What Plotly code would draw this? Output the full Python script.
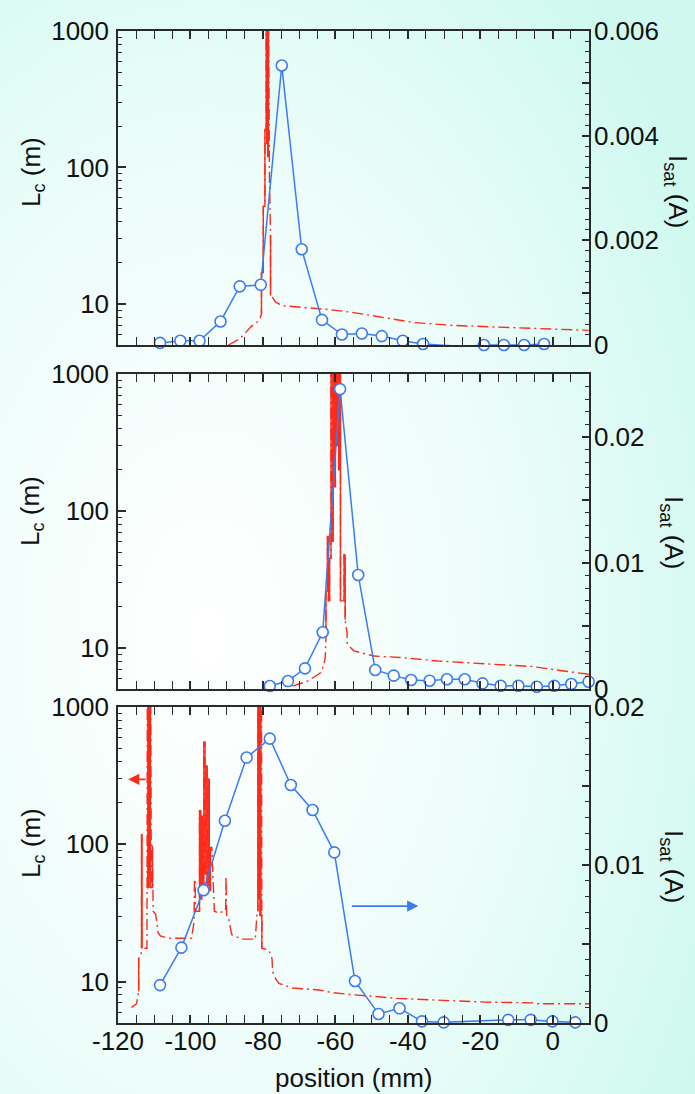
import base64
import plotly.graph_objects as go

# ---------------- data ----------------
# Panel 1 (top)
p1_red_x = [-89.5, -86.2, -83.4, -81.5, -80.8, -80.4, -80.4, -79.9, -79.9, -79.45, -79.45,
            -79.1, -79.1, -78.95, -78.95, -78.8, -78.8, -78.65, -78.65, -78.5, -78.5,
            -78.2, -77.9, -77.9, -77.4, -76.5, -74.6, -69.6, -62.0, -55.7, -47.4, -41.8,
            -38.2, -27.1, -18.0, -10.4, -1.2, 9.9]
p1_red_L = [5.0, 5.6, 6.76, 7.4, 7.8, 8.5, 17, 17, 52, 52, 190,
            190, 3000, 3000, 150, 150, 3000, 3000, 120, 120, 3000,
            86, 32, 11.5, 11.2, 10.3, 9.7, 9.5, 9.1, 8.7, 8.0, 7.55,
            7.3, 6.95, 6.8, 6.7, 6.6, 6.4]
p1_blue_x = [-108.4, -102.8, -97.5, -91.7, -86.4, -80.6, -74.8, -69.3, -63.7, -58.2,
             -52.7, -47.2, -41.4, -35.8, -24.5, -19.0, -13.5, -7.9, -2.4]
p1_blue_I = [0.00004, 0.00008, 0.00008, 0.00045, 0.00112, 0.00115, 0.00534, 0.00183,
             0.00048, 0.0002, 0.00022, 0.00017, 0.00008, 0.00002, -0.00003, 0.0, 0.0,
             0.0, 0.00002]

# Panel 2 (middle)
p2_red_x = [-71.9, -67.7, -64.0, -63.2, -62.8, -62.6, -62.6, -62.2, -62.2, -61.9, -61.9,
            -61.6, -61.6, -61.2, -61.2, -60.9, -60.9, -60.6, -60.6, -60.3, -60.3, -60.0,
            -60.0, -59.7, -59.7, -59.4, -59.4, -59.1, -59.1, -58.8, -58.8, -58.6, -58.6,
            -58.2, -57.6, -57.6, -57.3, -57.3, -56.8, -56.7, -54.9, -49.4, -46.0, -42.0,
            -31.7, -19.7, -5.8, 2.5, 9.0, 10.0]
p2_red_L = [5.25, 5.7, 6.6, 7.5, 8.5, 12, 26, 26, 65, 65, 22,
            22, 45, 45, 3000, 3000, 60, 60, 3000, 3000, 150, 150,
            3000, 3000, 300, 300, 3000, 3000, 200, 200, 3000, 3000, 22,
            22, 22, 48, 48, 16, 13, 10.6, 9.5, 8.7, 8.6, 8.5,
            8.0, 7.7, 7.3, 6.8, 6.5, 6.4]
p2_blue_x = [-78.1, -73.1, -68.4, -63.5, -58.7, -53.7, -49.0, -43.9, -39.1, -34.0,
             -29.2, -24.3, -19.4, -14.4, -9.5, -4.4, 0.4, 5.1, 9.9]
p2_blue_I = [0.00024, 0.00063, 0.00164, 0.0045, 0.0238, 0.00905, 0.00151, 0.00106,
             0.00071, 0.00066, 0.00077, 0.00077, 0.00045, 0.00026, 0.00026, 0.00018,
             0.00026, 0.0004, 0.00058]

# Panel 3 (bottom)
p3_red_x = [-116.3, -115.4, -114.9, -114.5, -114.3, -114.3, -113.7, -113.5, -113.5, -113.4,
            -113.4, -112.3, -112.0, -111.9, -111.75, -111.75, -111.6, -111.6, -111.45,
            -111.45, -111.3, -111.3, -111.15, -111.15, -111.0, -110.8, -110.5, -110.5,
            -110.3, -109.6, -108.9, -108.3, -106.1, -99.7, -99.2, -99.0, -98.9, -98.7,
            -98.6, -97.8, -97.5, -97.5, -97.2, -97.2, -96.9, -96.9, -96.6, -96.6, -96.3,
            -96.3, -96.0, -96.0, -95.7, -95.7, -95.4, -95.4, -95.1, -95.1, -94.8, -94.8,
            -94.5, -94.5, -94.1, -93.4, -92.3, -90.6, -90.3, -90.2, -90.0, -89.5, -88.6,
            -85.8, -82.1, -81.6, -81.4, -81.4, -81.2, -81.2, -81.0, -81.0, -80.8, -80.8,
            -80.6, -80.6, -80.4, -80.3, -80.3, -78.4, -77.5, -77.3, -76.5, -75.6, -71.9,
            -64.5, -61.2, -56.7, -42.8, -18.7, -4.9, -4.0, 9.9, 10.0]
p3_red_L = [6.5, 6.7, 6.9, 7.8, 8.5, 14.8, 15.3, 17.5, 119, 119,
            17.5, 17.5, 17.5, 3000, 3000, 48, 48, 3000, 3000,
            60, 60, 3000, 3000, 48, 3000, 48, 48, 98,
            32.6, 31, 22.6, 21.5, 20.7, 20.7, 27.5, 27.5, 55.6, 55.6,
            32.6, 32.6, 32.6, 176, 176, 40, 40, 160, 160, 45, 45,
            557, 557, 60, 60, 376, 376, 50, 50, 300, 300, 46,
            46, 95, 95, 32.6, 31.6, 32.6, 32.6, 58.7, 30, 29, 22,
            20.4, 20.4, 32.6, 32.6, 3000, 3000, 40, 40, 3000, 3000, 30,
            30, 3000, 3000, 31, 17.5, 17, 14.8, 11.8, 10.5, 9.7, 9.0,
            8.7, 8.35, 8.1, 7.55, 7.1, 7.0, 6.9, 6.9, 6.9]
p3_blue_x = [-108.4, -102.5, -96.4, -90.5, -84.5, -78.1, -72.3, -66.3, -60.3, -54.6,
             -48.1, -42.3, -36.1, -30.1, -12.3, -6.1, -0.1, 6.2]
p3_blue_I = [0.0024, 0.00477, 0.0084, 0.0128, 0.0168, 0.0180, 0.01506, 0.01348, 0.0108,
             0.00266, 0.00057, 0.00093, 0.0001, 0.00004, 0.0002, 0.0002, 0.0001, 0.00004]

# axis ranges / ticks
x_range = [-120, 10]
x_tickvals = [-120, -100, -80, -60, -40, -20, 0]
x_ticktext = ["-120", "-100", "-80", "-60", "-40", "-20", "0"]
lc_range_log = [0.699, 3]
lc_ticks = [10, 100, 1000]
lc_minor = [5, 6, 7, 8, 9, 20, 30, 40, 50, 60, 70, 80, 90, 200, 300, 400, 500, 600, 700, 800, 900]
isat_ranges = [[0, 0.006], [0, 0.025], [0, 0.02]]
isat_tickvals = [[0, 0.001, 0.002, 0.003, 0.004, 0.005, 0.006],
                 [0, 0.005, 0.01, 0.015, 0.02, 0.025],
                 [0, 0.005, 0.01, 0.015, 0.02]]
isat_ticktext = [["0", "", "0.002", "", "0.004", "", "0.006"],
                 ["0", "", "0.01", "", "0.02", ""],
                 ["0", "", "0.01", "", "0.02"]]
isat_minor = [0.0002, 0.001, 0.001]

# ---------------- figure ----------------
W, H = 695, 1094
RED = "#FF2A1A"
BLUE = "#3A7CF0"
AX = "#2A2A2A"
TXT = "#111111"
FONT = "Liberation Sans, Arial, sans-serif"
FS = 26

panels_px = [(31, 345), (374, 689), (707, 1023)]
x_px = (118, 589)

fig = go.Figure()

red_sets = [(p1_red_x, p1_red_L), (p2_red_x, p2_red_L), (p3_red_x, p3_red_L)]
blue_sets = [(p1_blue_x, p1_blue_I), (p2_blue_x, p2_blue_I), (p3_blue_x, p3_blue_I)]


def vertical_segments(xs, ys):
    """Pick out the vertical jumps (same x) of the L_c trace; drawn solid on top."""
    sx, sy = [], []
    for k in range(len(xs) - 1):
        if xs[k] == xs[k + 1]:
            sx += [xs[k], xs[k + 1], None]
            sy += [ys[k], ys[k + 1], None]
    return sx, sy


layout = dict(
    width=W, height=H, margin=dict(l=0, r=0, t=0, b=0, autoexpand=False),
    paper_bgcolor="#E6FCF7", plot_bgcolor="#FFFFC4",
    showlegend=False, font=dict(family=FONT, size=FS, color=TXT),
)

for i in range(3):
    xa = "x" if i == 0 else f"x{i+1}"
    yl = f"y{2*i+1}" if i > 0 else "y"
    yr = f"y{2*i+2}"
    rx, rL = red_sets[i]
    bx, bI = blue_sets[i]
    fig.add_trace(go.Scatter(x=rx, y=rL, mode="lines", xaxis=xa, yaxis=yl,
                             line=dict(color=RED, width=1.4, dash="11px,4px,2px,4px")))
    vx, vy = vertical_segments(rx, rL)
    fig.add_trace(go.Scatter(x=vx, y=vy, mode="lines", xaxis=xa, yaxis=yl,
                             connectgaps=False, line=dict(color=RED, width=1.4)))
    fig.add_trace(go.Scatter(x=bx, y=bI, mode="lines+markers", xaxis=xa, yaxis=yr,
                             cliponaxis=False,
                             line=dict(color=BLUE, width=1.5),
                             marker=dict(symbol="circle", size=11, color="white",
                                         line=dict(color=BLUE, width=1.6))))

    top, bot = panels_px[i]
    ydom = [1 - bot / H, 1 - top / H]
    xdom = [x_px[0] / W, x_px[1] / W]
    xkey = "xaxis" if i == 0 else f"xaxis{i+1}"
    ylkey = "yaxis" if i == 0 else f"yaxis{2*i+1}"
    yrkey = f"yaxis{2*i+2}"
    layout[xkey] = dict(
        domain=xdom, anchor=yl, range=x_range, tickmode="array",
        tickvals=x_tickvals, ticktext=x_ticktext,
        ticks="inside", ticklen=8, tickwidth=2, tickcolor=AX,
        showline=True, linecolor=AX, linewidth=1.5, mirror="allticks",
        showgrid=False, zeroline=False, showticklabels=(i == 2),
        minor=dict(dtick=5, tick0=0, ticks="inside", ticklen=4, tickwidth=1.2, tickcolor=AX, showgrid=False),
        tickfont=dict(size=FS, family=FONT, color=TXT), ticklabelstandoff=-6,
    )
    layout[ylkey] = dict(
        domain=ydom, anchor=xa, type="log", range=lc_range_log,
        tickmode="array", tickvals=lc_ticks, ticktext=[str(v) for v in lc_ticks],
        ticks="inside", ticklen=8, tickwidth=2, tickcolor=AX,
        showline=True, linecolor=AX, linewidth=1.5, mirror=False,
        showgrid=False, zeroline=False,
        minor=dict(tickmode="array", tickvals=lc_minor, ticks="inside", ticklen=4, tickwidth=1.2,
                   tickcolor=AX, showgrid=False),
        tickfont=dict(size=FS, family=FONT, color=TXT), ticklabelstandoff=2,
    )
    layout[yrkey] = dict(
        domain=ydom, anchor=xa, overlaying=yl, side="right", range=isat_ranges[i],
        tickmode="array", tickvals=isat_tickvals[i], ticktext=isat_ticktext[i],
        ticks="inside", ticklen=7, tickwidth=2, tickcolor=AX,
        showline=True, linecolor=AX, linewidth=1.5,
        showgrid=False, zeroline=False,
        minor=dict(dtick=isat_minor[i], tick0=0, ticks="inside", ticklen=4, tickwidth=1.2,
                   tickcolor=AX, showgrid=False),
        tickfont=dict(size=FS, family=FONT, color=TXT), ticklabelstandoff=-2,
    )

annotations = []
lc_title_y = [172, 511, 843]
is_title = [(677, 191), (673, 532), (673, 866)]
for i in range(3):
    annotations.append(dict(text="L<sub>c</sub> (m)", xref="paper", yref="paper",
                            x=32 / W, y=1 - lc_title_y[i] / H, showarrow=False,
                            textangle=-90, xanchor="center", yanchor="middle",
                            font=dict(size=FS, family=FONT, color=TXT)))
    annotations.append(dict(text="I<sub>sat</sub> (A)", xref="paper", yref="paper",
                            x=is_title[i][0] / W, y=1 - is_title[i][1] / H, showarrow=False,
                            textangle=90, xanchor="center", yanchor="middle",
                            font=dict(size=FS, family=FONT, color=TXT)))
annotations.append(dict(text="position (mm)", xref="paper", yref="paper",
                        x=353 / W, y=1 - 1078 / H, showarrow=False,
                        xanchor="center", yanchor="middle",
                        font=dict(size=FS, family=FONT, color=TXT)))
# arrows in bottom panel
annotations.append(dict(x=-117.2, y=2.473, xref="x3", yref="y5", ax=19, ay=0,
                        showarrow=True, arrowhead=2, arrowsize=1.4, arrowwidth=1.6,
                        arrowcolor=RED, text=""))
annotations.append(dict(x=-37.1, y=0.0074, xref="x3", yref="y6", ax=-68, ay=0,
                        showarrow=True, arrowhead=2, arrowsize=1.4, arrowwidth=1.6,
                        arrowcolor=BLUE, text=""))
layout["annotations"] = annotations

svg = ('<svg xmlns="http://www.w3.org/2000/svg" width="695" height="1094" viewBox="0 0 695 1094" '
       'preserveAspectRatio="none"><defs><radialGradient id="g" cx="0.3" cy="0.58" r="0.8">'
       '<stop offset="0" stop-color="#FFFFFF"/><stop offset="0.55" stop-color="#ECFDF9"/>'
       '<stop offset="1" stop-color="#CFF9EF"/></radialGradient></defs>'
       '<rect width="695" height="1094" fill="url(#g)"/></svg>')
src = "data:image/svg+xml;base64," + base64.b64encode(svg.encode()).decode()
layout["images"] = [dict(source=src, xref="paper", yref="paper", x=0, y=1, sizex=1, sizey=1,
                         xanchor="left", yanchor="top", sizing="stretch", layer="below")]

fig.update_layout(**layout)
fig.write_html("out.html")
